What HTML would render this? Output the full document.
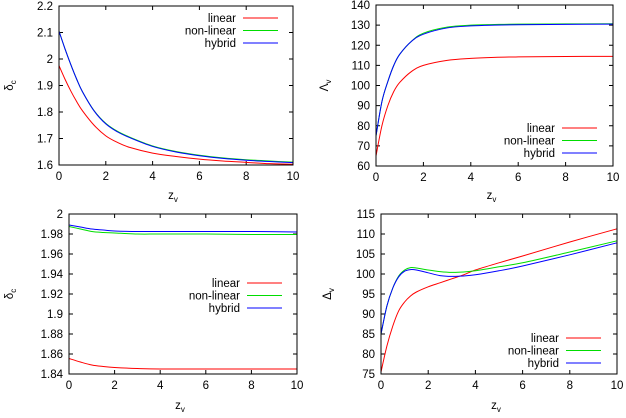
<!DOCTYPE html>
<html><head><meta charset="utf-8"><style>
body{margin:0;background:#fff}
svg{font-family:"Liberation Sans",sans-serif;font-size:11.5px}
</style></head><body>
<svg id="c" width="626" height="413"></svg>
<script>
const p1x=[0,0.25,0.5,0.75,1,1.5,2,2.5,3,4,5,6,7,8,9,10];
const p1Linear=[1.975,1.925,1.88,1.84,1.805,1.75,1.71,1.685,1.667,1.645,1.632,1.622,1.615,1.61,1.605,1.603];
const p1Nonlinear=[2.105,2.04,1.98,1.925,1.877,1.805,1.757,1.727,1.706,1.672,1.651,1.637,1.627,1.62,1.615,1.611];
const p1Hybrid=[2.105,2.04,1.98,1.925,1.877,1.804,1.755,1.725,1.704,1.67,1.649,1.635,1.625,1.618,1.613,1.609];
const p1Ticks=[1.6,1.7,1.8,1.9,2,2.1,2.2];
const p2x=[0,0.25,0.5,0.75,1,1.5,2,3,4,5,6,8,10];
const p2Linear=[65,80,90,97,101.5,107,110,112.5,113.5,114,114.2,114.4,114.5];
const p2Nonlinear=[75,92,102,110,115.5,122,126,129,130,130.3,130.5,130.6,130.7];
const p2Hybrid=[75,92,102,110,115.5,122,125.5,128.6,129.6,130,130.2,130.4,130.5];
const p2Ticks=[60,70,80,90,100,110,120,130,140];
const p3x=[0,0.5,1,1.5,2,3,4,6,8,10];
const p3Linear=[1.8555,1.852,1.849,1.8475,1.8465,1.8455,1.845,1.845,1.845,1.845];
const p3Nonlinear=[1.9875,1.985,1.9825,1.9815,1.981,1.98,1.98,1.98,1.9795,1.9795];
const p3Hybrid=[1.989,1.987,1.985,1.984,1.983,1.9825,1.9825,1.9825,1.9825,1.982];
const p3Ticks=[1.84,1.86,1.88,1.9,1.92,1.94,1.96,1.98,2];
const p4x=[0,0.25,0.5,0.75,1,1.25,1.5,2,2.5,3,3.5,4,5,6,8,10];
const p4Linear=[75.5,82,87,90.8,93,94.5,95.5,96.8,97.8,98.8,99.8,101,102.8,104.5,108,111.3];
const p4Nonlinear=[85,92,96.5,99.5,101,101.6,101.5,101,100.6,100.4,100.5,100.8,101.8,102.8,105.5,108.3];
const p4Hybrid=[85,92,96.5,99.3,100.7,101.1,101,100.3,99.6,99.4,99.5,99.8,100.8,102,104.8,107.8];
const p4Ticks=[75,80,85,90,95,100,105,110,115];
const xTicks=[0,2,4,6,8,10];
const names=["linear","non-linear","hybrid"];
const colors=["#ff0000","#00dd00","#0000ff"];

const svg=document.getElementById('c');
const NS="http://www.w3.org/2000/svg";
function mk(t,a,parent){const e=document.createElementNS(NS,t);for(const k in a)e.setAttribute(k,a[k]);(parent||svg).appendChild(e);return e;}
function panel(id,L,R,T,B,ymin,ymax,yt,xs,series,leg,ylab,ylabX,xlabY,decimals){
  const g=mk('g',{});
  
  
  const sx=v=>L+(v-0)/(10)*(R-L), sy=v=>B-(v-ymin)/(ymax-ymin)*(B-T);
  yt.forEach(v=>{const y=sy(v);
    mk('line',{x1:L,x2:L+4,y1:y,y2:y,stroke:'#000'},g);mk('line',{x1:R-4,x2:R,y1:y,y2:y,stroke:'#000'},g);
    const t=mk('text',{x:L-6,y:y+4,'text-anchor':'end'},g);t.textContent=decimals!=null?String(+v.toFixed(decimals)):String(v);
    });
  xTicks.forEach(v=>{const x=sx(v);
    mk('line',{x1:x,x2:x,y1:B,y2:B-4,stroke:'#000'},g);mk('line',{x1:x,x2:x,y1:T,y2:T+4,stroke:'#000'},g);
    const t=mk('text',{x:x,y:B+15,'text-anchor':'middle'},g);t.textContent=v;
    });
  series.forEach((s,i)=>{
    const pts=xs.map((x,j)=>[sx(x),sy(s[j])]);
    let d='M'+pts[0][0]+','+pts[0][1];
    for(let j=0;j<pts.length-1;j++){const p0=pts[Math.max(j-1,0)],p1=pts[j],p2=pts[j+1],p3=pts[Math.min(j+2,pts.length-1)];
      d+=' C'+(p1[0]+(p2[0]-p0[0])/6)+','+(p1[1]+(p2[1]-p0[1])/6)+' '+(p2[0]-(p3[0]-p1[0])/6)+','+(p2[1]-(p3[1]-p1[1])/6)+' '+p2[0]+','+p2[1];}
    const path=mk('path',{d:d,fill:'none',stroke:colors[i],'stroke-width':1},g);
    
    
    const ly=leg[1]+i*leg[2];
    const lt=mk('text',{x:leg[0],y:ly+4,'text-anchor':'end'},g);lt.textContent=names[i];
    
    
    mk('line',{x1:leg[0]+7,x2:leg[0]+42,y1:ly,y2:ly,stroke:colors[i]},g);
  });
  mk('rect',{x:L,y:T,width:R-L,height:B-T,fill:'none',stroke:'#000'},g);
  const xl=mk('text',{x:(L+R)/2-3,y:xlabY,'text-anchor':'middle'},g);xl.innerHTML='z<tspan font-size="8" dy="3">v</tspan>';
  
  const yl=mk('text',{x:0,y:0,transform:'translate('+ylabX+','+((T+B)/2)+') rotate(-90)','text-anchor':'middle'},g);
  yl.innerHTML=ylab+'<tspan font-size="8" dy="3">'+(ylab==='δ'?'c':'v')+'</tspan>';
  
}
panel('panel-delta-c-top',59,293,6,165,1.6,2.2,p1Ticks,p1x,[p1Linear,p1Nonlinear,p1Hybrid],[236,18,12.5],'δ',13,199,1);
panel('panel-lambda-v',376,613,5,166,60,140,p2Ticks,p2x,[p2Linear,p2Nonlinear,p2Hybrid],[555,128,12.5],'Λ',328,199,null);
panel('panel-delta-c-bottom',69,297,214,374,1.84,2,p3Ticks,p3x,[p3Linear,p3Nonlinear,p3Hybrid],[240,283,12.5],'δ',13,409,2);
panel('panel-delta-v',381,617,214,374,75,115,p4Ticks,p4x,[p4Linear,p4Nonlinear,p4Hybrid],[559,338,12.5],'Δ',331,409,null);
</script>
</body></html>
